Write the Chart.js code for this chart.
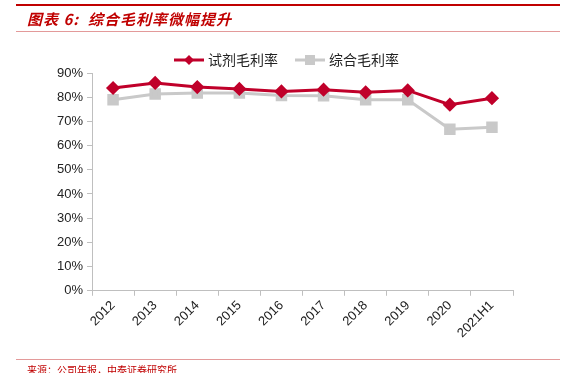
<!DOCTYPE html>
<html>
<head>
<meta charset="utf-8">
<script src="https://cdn.jsdelivr.net/npm/chart.js@4"></script>
<style>
  html, body { margin: 0; padding: 0; background: #fff; }
  #wrap { position: relative; width: 572px; height: 373px; overflow: hidden; }
  #myChart { position: absolute; left: 0; top: 0; }
  .topline { position: absolute; left: 16px; top: 4px; width: 544px; height: 2px; background: #c00000; }
  .subline { position: absolute; left: 16px; top: 31px; width: 544px; height: 1px; background: #e39a9a; }
  .footline { position: absolute; left: 16px; top: 359px; width: 544px; height: 1px; background: #e39a9a; }
  .title { position: absolute; left: 27px; top: 8px; font: italic bold 15px "Noto Sans CJK SC", sans-serif; color: #c00000; white-space: nowrap; letter-spacing: 1px; }
  .foot { position: absolute; left: 27px; top: 362px; font: 10px "Noto Sans CJK SC", sans-serif; color: #c00000; white-space: nowrap; }
</style>
</head>
<body>
<div id="wrap">
  <canvas id="myChart" width="572" height="373"></canvas>
  <div class="topline"></div>
  <div class="title">图表 6:&nbsp; 综合毛利率微幅提升</div>
  <div class="subline"></div>
  <div class="footline"></div>
  <div class="foot">来源：公司年报，中泰证券研究所</div>
</div>
<script>
var years = ['2012', '2013', '2014', '2015', '2016', '2017', '2018', '2019', '2020', '2021H1'];
var reagent_margin = [83.8, 85.9, 84.2, 83.4, 82.4, 83.1, 82.0, 82.8, 76.9, 79.6];
var total_margin = [78.9, 81.3, 81.7, 81.7, 80.7, 80.6, 78.9, 78.9, 66.8, 67.6];
var series_names = ['试剂毛利率', '综合毛利率'];

var red = '#c0002a';
var gray = '#c9c9c9';

// legend drawn by hand so the marker sits on the line like the source
var legendPlugin = {
    id: 'legendLine',
    afterDraw: function (chart) {
        var c = chart.ctx;
        var items = [
            { x: 174, color: red, style: 'diamond', text: series_names[0] },
            { x: 295, color: gray, style: 'square', text: series_names[1] }
        ];
        var y = 60;
        c.save();
        items.forEach(function (it) {
            c.strokeStyle = it.color;
            c.lineWidth = 3;
            c.beginPath();
            c.moveTo(it.x, y);
            c.lineTo(it.x + 30, y);
            c.stroke();
            c.fillStyle = it.color;
            var mx = it.x + 15;
            if (it.style === 'diamond') {
                c.beginPath();
                c.moveTo(mx, y - 5);
                c.lineTo(mx + 5, y);
                c.lineTo(mx, y + 5);
                c.lineTo(mx - 5, y);
                c.closePath();
                c.fill();
            } else {
                c.fillRect(mx - 5, y - 5, 10, 10);
            }
            c.fillStyle = '#222';
            c.font = '14px "Noto Sans CJK SC"';
            c.textBaseline = 'middle';
            c.fillText(it.text, it.x + 34, y);
        });
        c.restore();
    }
};

var ctx = document.getElementById('myChart');

new Chart(ctx, {
    type: 'line',
    data: {
        labels: years,
        datasets: [
            {
                label: series_names[0],
                data: reagent_margin,
                borderColor: red,
                backgroundColor: red,
                borderWidth: 3,
                pointStyle: 'rectRot',
                pointRadius: 5,
                pointHoverRadius: 5,
                tension: 0
            },
            {
                label: series_names[1],
                data: total_margin,
                borderColor: gray,
                backgroundColor: gray,
                borderWidth: 3,
                pointStyle: 'rect',
                pointRadius: 6,
                pointHoverRadius: 6,
                tension: 0
            }
        ]
    },
    options: {
        responsive: false,
        animation: false,
        layout: { padding: { left: 53, right: 59, top: 73, bottom: 30 } },
        plugins: {
            legend: { display: false },
            tooltip: { enabled: false }
        },
        scales: {
            x: {
                offset: true,
                grid: {
                    display: true,
                    offset: true,
                    drawOnChartArea: false,
                    color: '#bfbfbf',
                    tickLength: 5
                },
                border: { color: '#bfbfbf', width: 1 },
                ticks: {
                    color: '#222',
                    font: { family: 'Liberation Sans', size: 13 },
                    maxRotation: 45,
                    minRotation: 45,
                    autoSkip: false,
                    padding: 2
                }
            },
            y: {
                min: 0,
                max: 90,
                grid: {
                    display: true,
                    drawOnChartArea: false,
                    color: '#bfbfbf',
                    tickLength: 5
                },
                border: { color: '#bfbfbf', width: 1 },
                ticks: {
                    stepSize: 10,
                    color: '#222',
                    font: { family: 'Liberation Sans', size: 13 },
                    padding: 4,
                    callback: function (v) { return v + '%'; }
                }
            }
        }
    },
    plugins: [legendPlugin]
});
</script>
</body>
</html>
